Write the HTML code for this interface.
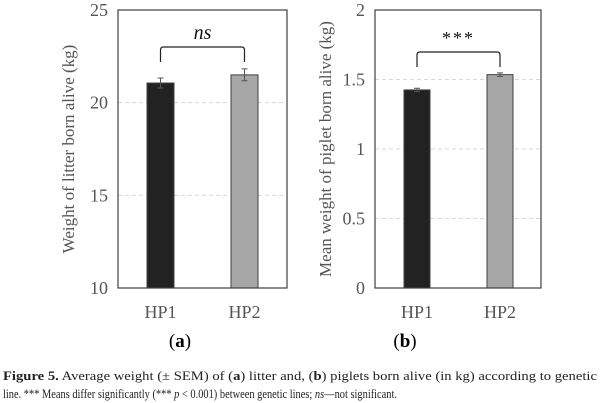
<!DOCTYPE html>
<html><head><meta charset="utf-8"><style>
body{margin:0;background:#fff;width:600px;height:403px;overflow:hidden}
svg{display:block}
text{font-family:"Liberation Serif",serif}
</style></head><body>
<svg id="fig" width="600" height="403">
<g id="pa"></g>
<g id="pb"></g>
<text x="180" y="347" font-size="19" text-anchor="middle">(<tspan font-weight="bold">a</tspan>)</text>
<text x="405" y="347" font-size="19" text-anchor="middle">(<tspan font-weight="bold">b</tspan>)</text>
<text x="3" y="380" font-size="13" fill="#222" textLength="594" lengthAdjust="spacingAndGlyphs"><tspan font-weight="bold">Figure 5.</tspan> Average weight (± SEM) of (<tspan font-weight="bold">a</tspan>) litter and, (<tspan font-weight="bold">b</tspan>) piglets born alive (in kg) according to genetic</text>
<text x="3" y="398" font-size="13" fill="#222" textLength="394" lengthAdjust="spacingAndGlyphs">line. *** Means differ significantly (*** <tspan font-style="italic">p</tspan> &lt; 0.001) between genetic lines; <tspan font-style="italic">ns</tspan>—not significant.</text>
</svg>
<script>
const categories = ["HP1", "HP2"];
const litterValues = [21.06, 21.5];
const litterErrors = [0.27, 0.32];
const litterTicks = [10, 15, 20, 25];
const pigletValues = [1.425, 1.535];
const pigletErrors = [0.012, 0.013];
const pigletTicks = [0, 0.5, 1, 1.5, 2];
const barColors = ["#222222", "#a6a6a6"];

const NS = "http://www.w3.org/2000/svg";
function mk(parent, tag, attrs) {
  const e = document.createElementNS(NS, tag);
  for (const k in attrs) e.setAttribute(k, attrs[k]);
  parent.appendChild(e);
  return e;
}
function panel(gid, box, vals, errs, ticks, ymin, ymax, title, sig, sigItalic, bracketY, barW, barCenters) {
  const g = document.getElementById(gid);
  const y = v => box.y1 - (v - ymin) / (ymax - ymin) * (box.y1 - box.y0);
  ticks.forEach(t => {
    if (t !== ymin && t !== ymax) {
      const l = mk(g, "line", {x1: box.x0, x2: box.x1, y1: y(t), y2: y(t), stroke: "#d9d9d9", "stroke-dasharray": "4,3", "stroke-width": 1});
      
      
    }
    const tx = mk(g, "text", {x: box.x0 - 10, y: y(t) + 6, "font-size": 18, fill: "#555", "text-anchor": "end"});
    tx.textContent = t;
    
    
  });
  const ttl = mk(g, "text", {x: 0, y: 0, "font-size": 17, fill: "#555", "text-anchor": "middle", transform: `translate(${box.x0 - 44},${(box.y0 + box.y1) / 2}) rotate(-90)`});
  ttl.textContent = title;
  
  
  categories.forEach((c, i) => {
    const cx = barCenters[i];
    const top = y(vals[i]);
    const b = mk(g, "rect", {x: cx - barW / 2, y: top, width: barW, height: box.y1 - top, fill: barColors[i], stroke: "#404040", "stroke-width": 1});
    
    
    const eb = mk(g, "path", {d: `M${cx},${y(vals[i] + errs[i])}V${y(vals[i] - errs[i])}M${cx - 3},${y(vals[i] + errs[i])}H${cx + 3}M${cx - 3},${y(vals[i] - errs[i])}H${cx + 3}`, stroke: "#555", "stroke-width": 1, fill: "none"});
    
    
    const xl = mk(g, "text", {x: cx, y: 318, "font-size": 18, fill: "#555", "text-anchor": "middle"});
    xl.textContent = c;
    
    
  });
  const fr = mk(g, "rect", {x: box.x0, y: box.y0, width: box.x1 - box.x0, height: box.y1 - box.y0, fill: "none", stroke: "#404040", "stroke-width": 1.2});
  
  
  const x0 = barCenters[0], x1 = barCenters[1];
  const br = mk(g, "path", {d: `M${x0},${bracketY + 15}V${bracketY + 3}Q${x0},${bracketY} ${x0 + 3},${bracketY}H${x1 - 3}Q${x1},${bracketY} ${x1},${bracketY + 3}V${bracketY + 15}`, stroke: "#222", "stroke-width": 1.2, fill: "none"});
  
  
  const st = mk(g, "text", {x: (x0 + x1) / 2, y: bracketY - 8, "font-size": sigItalic ? 20 : 18, fill: "#111", "text-anchor": "middle", "font-style": sigItalic ? "italic" : "normal", "letter-spacing": sigItalic ? 0 : 2});
  st.textContent = sig;
  
  
}
panel("pa", {x0: 118, x1: 287, y0: 10, y1: 288}, litterValues, litterErrors, litterTicks, 10, 25, "Weight of litter born alive (kg)", "ns", true, 47, 27, [160.5, 244.5]);
panel("pb", {x0: 375, x1: 541, y0: 10, y1: 288}, pigletValues, pigletErrors, pigletTicks, 0, 2, "Mean weight of piglet born alive (kg)", "***", false, 52, 26, [417, 500]);
</script>
</body></html>
